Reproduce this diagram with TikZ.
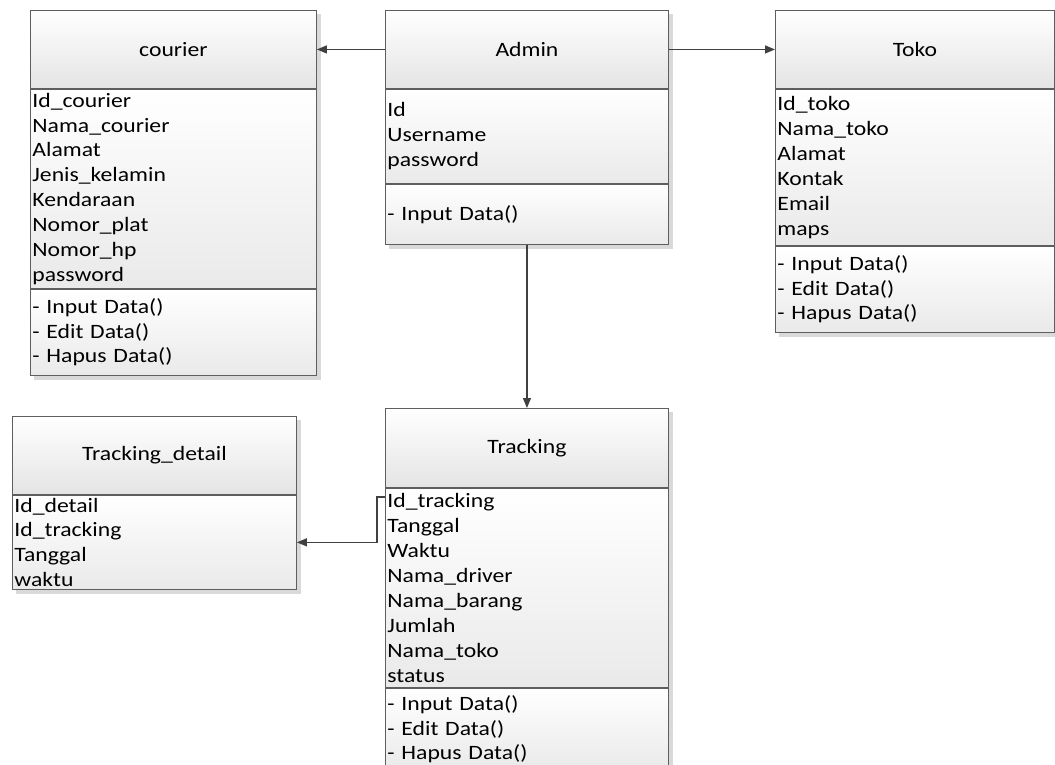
\documentclass[tikz,border=0pt]{standalone}
\usepackage{fontspec}
\setmainfont[FakeStretch=1.16]{Carlito}
\usetikzlibrary{arrows.meta,backgrounds,calc}

\definecolor{edge}{HTML}{5E5E5E}
\definecolor{link}{HTML}{404040}
\definecolor{shade}{HTML}{E4E4E4}
\definecolor{dropc}{HTML}{D9D9D9}

\tikzset{
  hdr/.style={draw=edge, line width=0.9pt, top color=white, bottom color=shade,
    inner sep=0pt, font=\fontsize{20.4}{24.9}\selectfont, anchor=north west},
  sect/.style={draw=edge, line width=0.9pt, top color=white, bottom color=shade!80,
    inner xsep=2pt, inner ysep=0pt, align=left, anchor=north,
    font=\fontsize{20.4}{24.9}\selectfont},
  rel/.style={draw=link, line width=1.3pt, -{Triangle[length=10pt,width=8pt]}},
}

% class box: name, x, y, width, header h, attribute h, method h, title, attributes, methods
\newcommand{\classbox}[9]{%
  \node[hdr, minimum width=#4pt, minimum height=#5pt] (#1-h) at (#2,#3) {#8};
  \node[sect, minimum width=#4pt, minimum height=#6pt,
        text width=\the\dimexpr #4pt-4pt\relax] (#1-a) at (#1-h.south) {#9};
}
\newcommand{\methodbox}[4]{%
  \node[sect, minimum width=#2pt, minimum height=#3pt,
        text width=\the\dimexpr #2pt-4pt\relax] (#1-m) at (#1-a.south) {#4};
}

\begin{document}
\begin{tikzpicture}[x=1pt, y=-1pt]
\useasboundingbox (0,0) rectangle (1055,765);

% courier
\classbox{courier}{30}{10}{286}{78}{199}{0}{courier}%
  {Id\_courier\\Nama\_courier\\Alamat\\Jenis\_kelamin\\Kendaraan\\Nomor\_plat\\Nomor\_hp\\password}
\methodbox{courier}{286}{86}{- Input Data()\\- Edit Data()\\- Hapus Data()}

% Admin
\classbox{admin}{385}{10}{283}{78}{94}{0}{Admin}{Id\\Username\\password}
\methodbox{admin}{283}{60}{- Input Data()}

% Toko
\classbox{toko}{775}{10}{279}{78}{156}{0}{Toko}%
  {Id\_toko\\Nama\_toko\\Alamat\\Kontak\\Email\\maps}
\methodbox{toko}{279}{86}{- Input Data()\\- Edit Data()\\- Hapus Data()}

% Tracking_detail
\classbox{detail}{12}{416}{284}{78}{94}{0}{Tracking\_detail}%
  {Id\_detail\\Id\_tracking\\Tanggal\\waktu}

% Tracking
\classbox{tracking}{385}{408}{283}{79}{199}{0}{Tracking}%
  {Id\_tracking\\Tanggal\\Waktu\\Nama\_driver\\Nama\_barang\\Jumlah\\Nama\_toko\\status}
\methodbox{tracking}{283}{82}{- Input Data()\\- Edit Data()\\- Hapus Data()}

% drop shadows
\begin{scope}[on background layer]
  \foreach \c/\last in {courier/m, admin/m, toko/m, detail/a, tracking/m}{
    \fill[dropc] ($(\c-h.north west)+(4,4)$) rectangle ($(\c-\last.south east)+(4,4)$);
  }
\end{scope}

% associations
\coordinate (trk-id) at ($(tracking-a.north west)+(0,9)$);
\draw[rel] (admin-h.west) -- (courier-h.east);
\draw[rel] (admin-h.east) -- (toko-h.west);
\draw[rel] (admin-m.south) -- (tracking-h.north);
\draw[rel] (trk-id) -- ++(-8,0) |- (detail-a.east);
\end{tikzpicture}
\end{document}
